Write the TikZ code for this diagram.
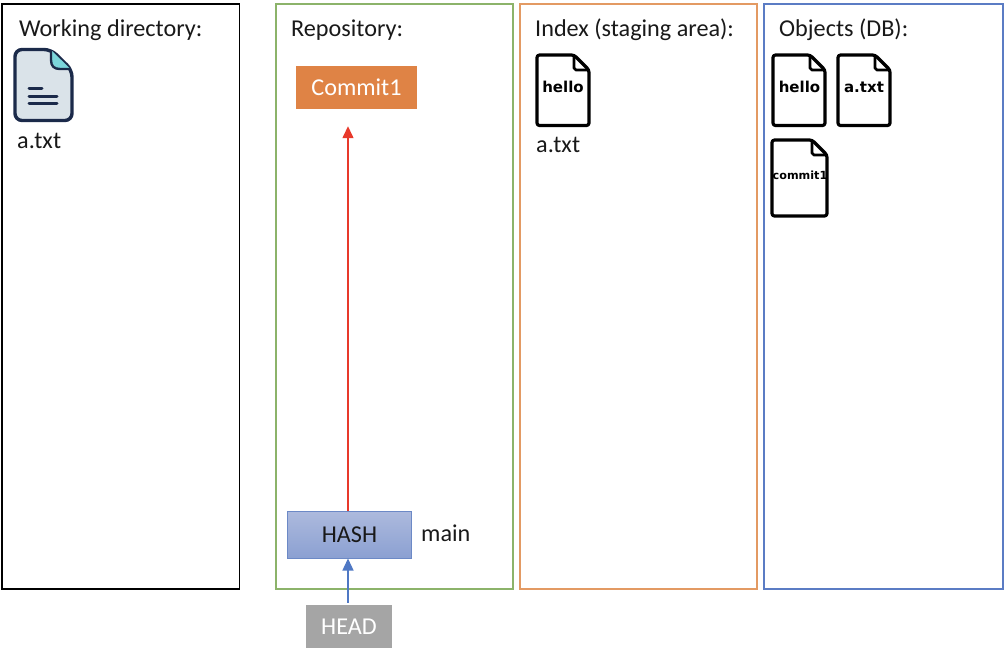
\documentclass[tikz,border=0pt]{standalone}
\usepackage{fontspec}
\setmainfont{Carlito}
\newfontfamily\filefont{DejaVu Sans}
\usetikzlibrary{arrows.meta}
\definecolor{panelgreen}{HTML}{8CB36A}
\definecolor{panelorange}{HTML}{E39A63}
\definecolor{panelblue}{HTML}{5B7CC4}
\definecolor{commitfill}{HTML}{DF8345}
\definecolor{headfill}{HTML}{A5A5A5}
\definecolor{hashtop}{HTML}{ADBADD}
\definecolor{hashbot}{HTML}{8BA0D2}
\definecolor{hashline}{HTML}{6C89C6}
\definecolor{arrowred}{HTML}{E8392B}
\definecolor{arrowblue}{HTML}{4F78C4}
\definecolor{iconink}{HTML}{1B2A4A}
\definecolor{iconfill}{HTML}{DAE3E9}
\definecolor{iconfold}{HTML}{7CD5DB}
\tikzset{
  panel/.style={draw=#1,line width=1.6pt,fill=white,minimum width=0pt,inner sep=0pt},
  label/.style={anchor=base west,inner sep=0pt,font=\fontsize{24.2}{28}\selectfont,text=black!90},
  filetext/.style={inner sep=0pt,font=\filefont\bfseries\fontsize{#1}{14}\selectfont,text=black},
  fileline/.style={draw=black,line width=3.2pt,line join=round,fill=white,rounded corners=2.5pt},
  boxtext/.style={font=\fontsize{24.2}{28}\selectfont},
  tip/.style={-{Triangle[length=12pt,width=11pt]}},
}
% x y (top-left) w h fold
\newcommand{\paperfile}[5]{%
  \draw[fileline] (#1,#2) -- ({#1+#3-#5},#2) -- ({#1+#3},{#2+#5}) -- ({#1+#3},{#2+#4}) -- (#1,{#2+#4}) -- cycle;
  \draw[draw=black,line width=2.8pt,line join=round] ({#1+#3-#5},#2) -- ({#1+#3-#5},{#2+#5-2}) -- ({#1+#3-#5+2},{#2+#5}) -- ({#1+#3},{#2+#5});
}
\begin{document}
\begin{tikzpicture}[x=1pt,y=-1pt]
\useasboundingbox (0,0) rectangle (1005,649);
\fill[white] (0,0) rectangle (1005,649);
% panels
\draw[draw=black,line width=1.6pt] (2,4) rectangle (239.5,589);
\draw[panel=panelgreen] (276,4) rectangle (513,589);
\draw[panel=panelorange] (520,4) rectangle (757,589);
\draw[panel=panelblue] (764,4) rectangle (1003,589);
% panel titles
\node[label] (wd) at (19,36) {Working directory:};
\node[label] (repo) at (291,36) {Repository:};
\node[label] (idx) at (535,36) {Index (staging area):};
\node[label] (obj) at (779,36) {Objects (DB):};
% working file icon
\draw[draw=iconink,line width=3.4pt,fill=iconfill,line join=round,rounded corners=7pt]
  (15,49.5) -- (51,49.5) -- (72,70) -- (72,120.5) -- (15,120.5) -- cycle;
\fill[iconfold] (51,50) -- (71,69.5) -- (58,69.5) -- (51,62) -- cycle;
\draw[draw=iconink,line width=2.4pt,line join=round] (51,50) -- (51,60) .. controls (51,66) and (54,69) .. (60,69) -- (71,69);
\draw[draw=iconink,line width=3pt,line cap=round] (29,88) -- (42,88) (29,96) -- (57,96) (29,103.5) -- (57,103.5);
\node[label] (wa) at (17,148) {a.txt};
% repository
\node[draw=none,fill=commitfill,text=white,boxtext,minimum width=121pt,minimum height=43pt,inner sep=0pt] (commit) at (356.5,87.5) {Commit1};
\node[draw=hashline,line width=1pt,top color=hashtop,bottom color=hashbot,boxtext,text=black!90,minimum width=124pt,minimum height=47pt,inner sep=0pt] (hash) at (349.5,534.5) {HASH};
\node[label] (main) at (421,541.5) {main};
\node[fill=headfill,text=white,boxtext,minimum width=86pt,minimum height=43pt,inner sep=0pt] (head) at (349,626.5) {HEAD};
\draw[draw=arrowred,line width=1.4pt,tip,shorten >=17pt] (hash.north -| 348,511) -- (commit.south -| 348,109);
\draw[draw=arrowblue,line width=1.4pt,tip,shorten <=2pt] (head.north -| 348,605) -- (hash.south -| 348,558);
% index file
\paperfile{537}{55}{52}{70.5}{15}
\node[filetext=15] (ih) at (563,87) {hello};
\node[label] (ia) at (536,152) {a.txt};
% objects
\paperfile{773}{55}{52}{70.5}{15}
\node[filetext=15] (oh) at (799.5,87) {hello};
\paperfile{838}{55}{52}{70.5}{15}
\node[filetext=15] (oa) at (864,87) {a.txt};
\paperfile{772}{140}{55}{76}{15}
\node[filetext=11.2] (oc) at (800,175) {commit1};
\end{tikzpicture}
\end{document}
